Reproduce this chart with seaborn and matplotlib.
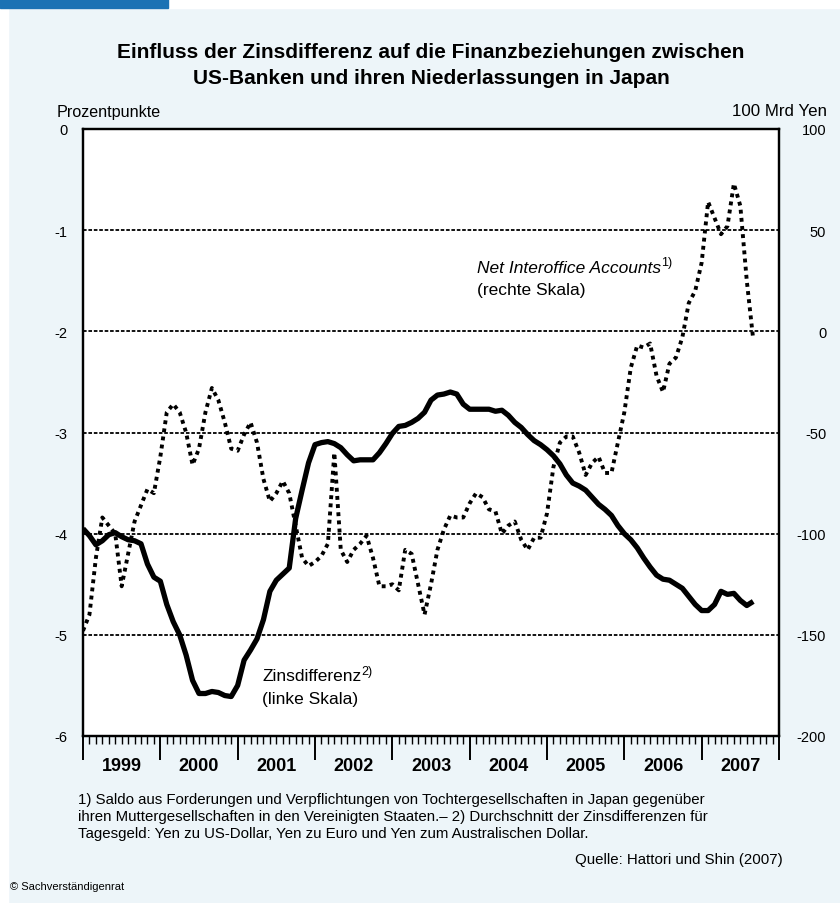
import numpy as np
import pandas as pd
import seaborn as sns
import matplotlib.pyplot as plt
from matplotlib.patches import Rectangle
from matplotlib.ticker import MultipleLocator, NullFormatter

# monthly values, Jan 1999 .. Sep 2007
start_year = 1999
zinsdifferenz = [
    -3.95, -4.02, -4.11, -4.07, -4.01, -3.99, -4.03, -4.06, -4.07, -4.10,
    -4.30, -4.43, -4.47, -4.70, -4.87, -5.00, -5.20, -5.45, -5.58, -5.58,
    -5.56, -5.57, -5.60, -5.61, -5.50, -5.25, -5.15, -5.04, -4.85, -4.57,
    -4.46, -4.40, -4.34, -3.85, -3.57, -3.30, -3.12, -3.10, -3.09, -3.11,
    -3.15, -3.22, -3.28, -3.27, -3.27, -3.27, -3.20, -3.11, -3.01, -2.94,
    -2.93, -2.90, -2.86, -2.80, -2.68, -2.63, -2.62, -2.60, -2.62, -2.72,
    -2.77, -2.77, -2.77, -2.77, -2.79, -2.78, -2.83, -2.90, -2.95, -3.02,
    -3.08, -3.12, -3.17, -3.23, -3.31, -3.42, -3.50, -3.53, -3.57, -3.64,
    -3.71, -3.76, -3.82, -3.92, -4.00, -4.06, -4.14, -4.24, -4.33, -4.41,
    -4.45, -4.46, -4.50, -4.54, -4.62, -4.70, -4.76, -4.76, -4.70, -4.57,
    -4.60, -4.59, -4.66, -4.71, -4.67,
]
net_interoffice = [
    -148, -140, -112, -92, -96, -100, -126, -110, -94, -86,
    -78, -80, -62, -40, -36, -40, -50, -66, -58, -40,
    -28, -34, -45, -58, -59, -51, -45, -55, -73, -84,
    -80, -74, -80, -96, -112, -116, -114, -111, -105, -60,
    -108, -114, -108, -105, -101, -112, -126, -126, -125, -128,
    -108, -110, -125, -140, -125, -108, -98, -91, -92, -92,
    -85, -80, -82, -88, -89, -100, -96, -94, -103, -108,
    -102, -102, -90, -67, -55, -52, -52, -60, -71, -65,
    -62, -70, -70, -55, -40, -18, -7, -8, -6, -22,
    -30, -16, -13, -3, 14, 20, 34, 64, 56, 48,
    52, 73, 62, 25, -4,
]
year_labels = ["1999", "2000", "2001", "2002", "2003", "2004", "2005", "2006", "2007"]
left_ticks = [-6, -5, -4, -3, -2, -1, 0]
right_ticks = [-200, -150, -100, -50, 0, 50, 100]

df = pd.DataFrame({
    "jahr": start_year + np.arange(len(zinsdifferenz)) / 12,
    "zins": zinsdifferenz,
    "nia": net_interoffice,
})

sns.set_style("white")
plt.rcParams["font.family"] = ["Liberation Sans", "DejaVu Sans"]
plt.rcParams["text.color"] = "black"
plt.rcParams["xtick.color"] = "black"
plt.rcParams["ytick.color"] = "black"
plt.rcParams["axes.labelcolor"] = "black"

BG = "#edf5f9"
W, H = 840, 904
fig = plt.figure(figsize=(8.4, 9.04), dpi=100)
fig.patch.set_facecolor(BG)
fig.add_artist(Rectangle((0, 0), 8 / W, 1, transform=fig.transFigure, color="white", zorder=0))
fig.add_artist(Rectangle((0, 1 - 9 / H), 1, 9 / H, transform=fig.transFigure, color="white", zorder=0))
fig.add_artist(Rectangle((0, 1 - 9 / H), 168 / W, 9 / H, transform=fig.transFigure, color="#1b72b4", zorder=1))

ax = fig.add_axes([83 / W, 1 - 737 / H, (779 - 83) / W, (737 - 130) / H])
ax.set_facecolor("white")

sns.lineplot(data=df, x="jahr", y="zins", ax=ax, color="black", lw=3.8,
             solid_joinstyle="round", solid_capstyle="butt")
ax.set_xlim(1999, 2008)
ax.set_ylim(-6, 0)
for v in left_ticks[1:-1]:
    ax.axhline(v, color="black", lw=1.3, ls=(0, (2, 1)), zorder=0.5)

ax2 = ax.twinx()
sns.lineplot(data=df, x="jahr", y="nia", ax=ax2, color="black", lw=2.8,
             linestyle=(0, (1, 1.1)), dash_capstyle="butt")
ax2.set_ylim(-200, 100)

for a in (ax, ax2):
    for s in a.spines.values():
        s.set_linewidth(1.6)
        s.set_color("black")
    a.set_xlabel("")
    a.set_ylabel("")

ax.set_yticks(left_ticks)
ax.set_yticklabels([str(t) for t in left_ticks])
ax.tick_params(axis="y", length=0, pad=11, labelsize=10.5)
ax2.set_yticks(right_ticks)
ax2.set_yticklabels([str(t) for t in right_ticks], ha="right")
ax2.tick_params(axis="y", length=0, pad=34, labelsize=10.5)

ax.xaxis.set_major_locator(MultipleLocator(1))
ax.xaxis.set_minor_locator(MultipleLocator(1 / 12))
ax.xaxis.set_major_formatter(NullFormatter())
ax.tick_params(axis="x", which="major", direction="out", length=17, width=1.4, color="black", bottom=True)
ax.tick_params(axis="x", which="minor", direction="out", length=6, width=1.0, color="black", bottom=True)
for i, lab in enumerate(year_labels):
    ax.text(start_year + i + 0.5, -0.035, lab, transform=ax.get_xaxis_transform(),
            ha="center", va="top", fontsize=13, fontweight="bold")

# series labels
t1 = ax.text(2004.1, -1.41, "Net Interoffice Accounts", fontsize=12.5, style="italic", va="baseline")
ax.annotate("1)", xy=(1, 1), xycoords=t1, xytext=(-0.5, -2), textcoords="offset points",
            fontsize=9, va="center")
ax.text(2004.1, -1.63, "(rechte Skala)", fontsize=12.5, va="baseline")
t2 = ax.text(2001.32, -5.45, "Zinsdifferenz", fontsize=12.5, va="baseline")
ax.annotate("2)", xy=(1, 1), xycoords=t2, xytext=(-0.5, -2), textcoords="offset points",
            fontsize=9, va="center")
ax.text(2001.32, -5.67, "(linke Skala)", fontsize=12.5, va="baseline")

fig.text(431 / W, 1 - 52 / H, "Einfluss der Zinsdifferenz auf die Finanzbeziehungen zwischen",
         ha="center", va="center", fontsize=15, fontweight="bold")
fig.text(431 / W, 1 - 78 / H, "US-Banken und ihren Niederlassungen in Japan",
         ha="center", va="center", fontsize=15, fontweight="bold")
fig.text(57 / W, 1 - 112 / H, "Prozentpunkte", ha="left", va="center", fontsize=11.6)
fig.text(827 / W, 1 - 112 / H, "100 Mrd Yen", ha="right", va="center", fontsize=12.2)

notes = [
    "1) Saldo aus Forderungen und Verpflichtungen von Tochtergesellschaften in Japan gegenüber",
    "ihren Muttergesellschaften in den Vereinigten Staaten.– 2) Durchschnitt der Zinsdifferenzen für",
    "Tagesgeld: Yen zu US-Dollar, Yen zu Euro und Yen zum Australischen Dollar.",
]
for i, line in enumerate(notes):
    fig.text(78 / W, 1 - (800 + 17 * i) / H, line, ha="left", va="center", fontsize=10.8)
fig.text(783 / W, 1 - 860 / H, "Quelle: Hattori und Shin (2007)", ha="right", va="center", fontsize=10.8)
fig.text(10 / W, 1 - 887 / H, "© Sachverständigenrat", ha="left", va="center", fontsize=8)

fig.savefig("out.png", dpi=100, facecolor=fig.get_facecolor())
